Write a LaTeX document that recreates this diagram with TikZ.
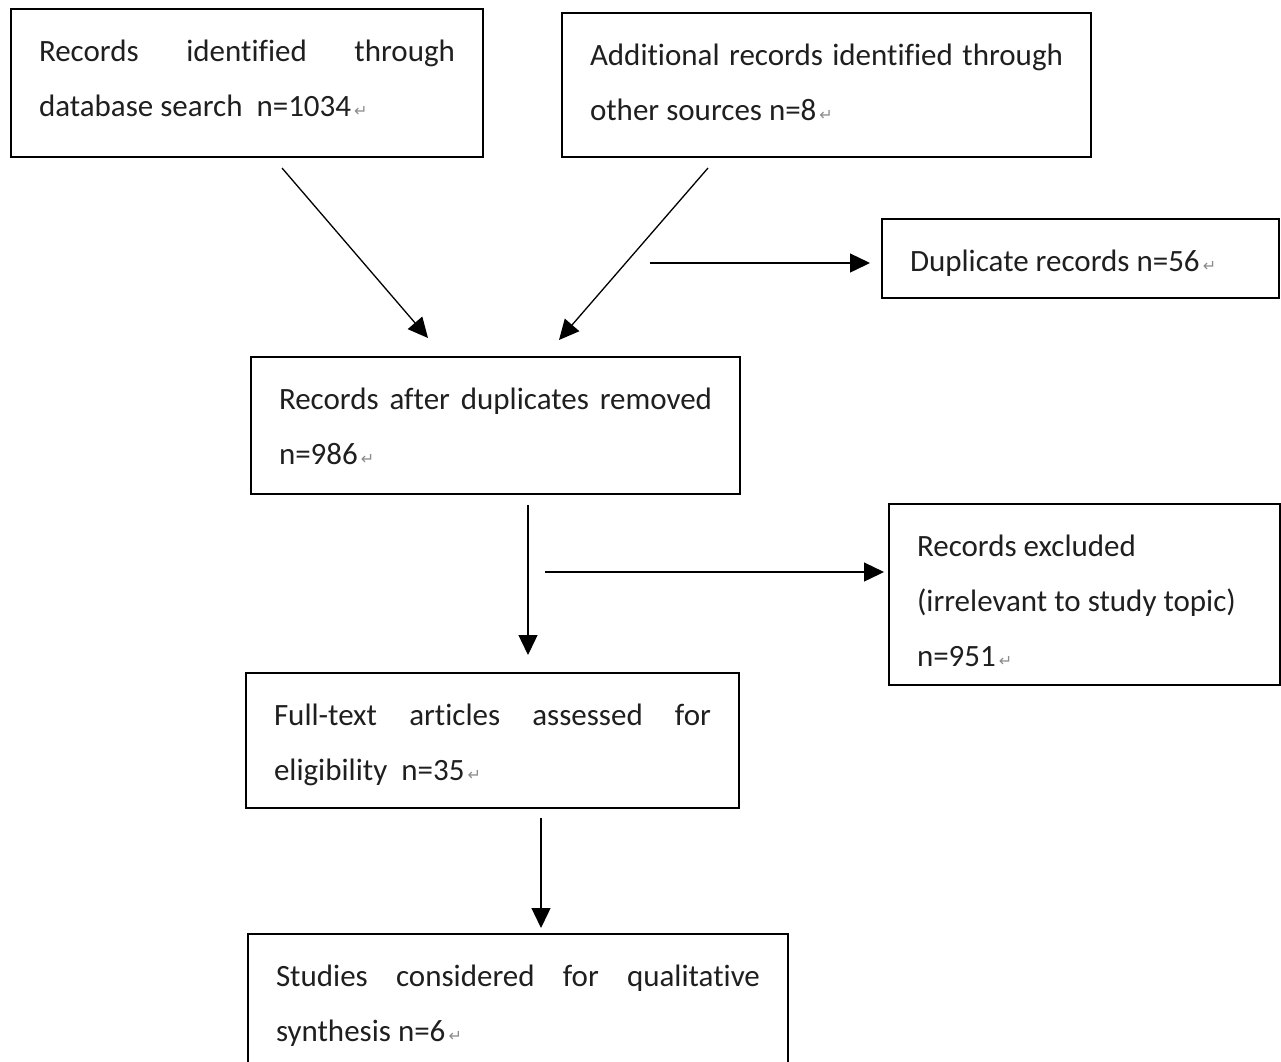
\documentclass[tikz,border=0pt]{standalone}
\usepackage{fontspec}
\setmainfont{Carlito}[Ligatures={NoCommon}]
\newfontfamily\dejavu{DejaVu Sans}
\usetikzlibrary{arrows.meta}
\newcommand\pmk{\hspace{3pt}{\dejavu\fontsize{16}{16}\selectfont\color{black!45}↵}}
\newcommand\fr{\rule{0pt}{52pt}}
\newcommand\jl[1]{\makebox[\linewidth][s]{#1}}
\begin{document}
\begin{tikzpicture}[x=1pt,y=-1pt,
  box/.style={draw, line width=2.8pt, inner xsep=28pt, inner ysep=0pt, outer sep=0pt,
    font=\fontsize{31}{55}\selectfont, text=black!88},
  arr/.style={line width=1.3pt, -{Triangle[length=20pt,width=19pt]}}]
\useasboundingbox (0,0) rectangle (1281,1061);
\node[box] (b1) at (247,83) {\parbox[c][148pt][t]{416pt}{\fr\jl{Records identified through}\\ database search\ \ n=1034\pmk}};
\node[box] (b2) at (826.5,85) {\parbox[c][144pt][t]{473pt}{\fr\jl{Additional records identified through}\\ other sources n=8\pmk}};
\node[box] (dup) at (1080.5,258.5) {\parbox[c][79pt][t]{341pt}{\fr Duplicate records n=56\pmk}};
\node[box] (rec) at (495.5,425.5) {\parbox[c][137pt][t]{433pt}{\fr\jl{Records after duplicates removed}\\ n=986\pmk}};
\node[box] (excl) at (1084.5,594.5) {\parbox[c][181pt][t]{335pt}{\fr Records excluded\\ (irrelevant to study topic)\\ n=951\pmk}};
\node[box] (full) at (492.5,740.5) {\parbox[c][135pt][t]{437pt}{\fr\jl{Full-text articles assessed for}\\ eligibility\ \ n=35\pmk}};
\node[box] (stud) at (518,1004) {\parbox[c][140pt][t]{484pt}{\fr\jl{Studies considered for qualitative}\\ synthesis n=6\pmk}};
\coordinate (dupsrc) at (650,263);
\coordinate (exsrc) at (545,572);
\draw[arr] ([xshift=35pt,yshift=-11pt]b1.south) -- ([xshift=-67.5pt,yshift=19pt]rec.north);
\draw[arr] ([xshift=-118.5pt,yshift=-11pt]b2.south) -- ([xshift=63.5pt,yshift=17pt]rec.north);
\draw[arr, shorten >=12pt] (dupsrc) -- (dupsrc -| dup.west);
\draw[arr] ([xshift=32.5pt,yshift=-11pt]rec.south) -- ([xshift=35.5pt,yshift=18pt]full.north);
\draw[arr, shorten >=5pt] (exsrc) -- (exsrc -| excl.west);
\draw[arr] ([xshift=48.5pt,yshift=-10pt]full.south) -- ([xshift=23pt,yshift=6pt]stud.north);
\end{tikzpicture}
\end{document}
